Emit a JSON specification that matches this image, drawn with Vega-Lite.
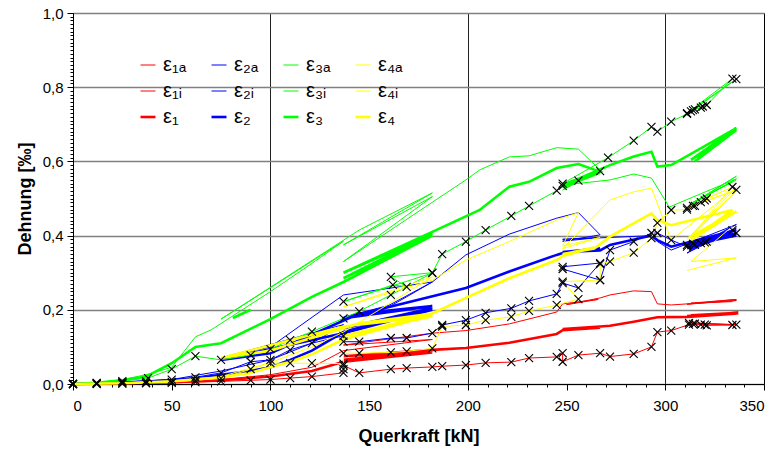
{
"$schema":"https://vega.github.io/schema/vega-lite/v6.json",
"width":691,"height":371,"autosize":"none",
"padding":{"left":73,"top":13,"right":15,"bottom":74},
"config":{"font":"Liberation Sans","view":{"stroke":"#000","strokeWidth":1},"axis":{"domainColor":"#000","tickColor":"#000","labelColor":"#000","titleColor":"#000"}},
"data":{"values":[
{"s":"1a","o":0,"x":0,"y":0},{"s":"1a","o":1,"x":25,"y":0.002},{"s":"1a","o":2,"x":50,"y":0.005},{"s":"1a","o":3,"x":75,"y":0.012},{"s":"1a","o":4,"x":100,"y":0.025},{"s":"1a","o":5,"x":121,"y":0.045},{"s":"1a","o":6,"x":137,"y":0.09},{"s":"1a","o":7,"x":182,"y":0.12},{"s":"1a","o":8,"x":137,"y":0.105},{"s":"1a","o":9,"x":182,"y":0.137},{"s":"1a","o":10,"x":199,"y":0.144},{"s":"1a","o":11,"x":221,"y":0.162},{"s":"1a","o":12,"x":245,"y":0.194},{"s":"1a","o":13,"x":248,"y":0.216},{"s":"1a","o":14,"x":266,"y":0.228},{"s":"1a","o":15,"x":250,"y":0.214},{"s":"1a","o":16,"x":267,"y":0.232},{"s":"1a","o":17,"x":272,"y":0.24},{"s":"1a","o":18,"x":284,"y":0.251},{"s":"1a","o":19,"x":293,"y":0.249},{"s":"1a","o":20,"x":296,"y":0.216},{"s":"1a","o":21,"x":303,"y":0.213},{"s":"1a","o":22,"x":336,"y":0.225},{"s":"1a","o":23,"x":311,"y":0.215},{"s":"1a","o":24,"x":336,"y":0.228},{"s":"1a","o":25,"x":313,"y":0.218},{"s":"1a","o":26,"x":334,"y":0.222},
{"s":"1","o":0,"x":0,"y":0},{"s":"1","o":1,"x":25,"y":0.002},{"s":"1","o":2,"x":50,"y":0.005},{"s":"1","o":3,"x":75,"y":0.01},{"s":"1","o":4,"x":100,"y":0.02},{"s":"1","o":5,"x":121,"y":0.035},{"s":"1","o":6,"x":137,"y":0.06},{"s":"1","o":7,"x":182,"y":0.085},{"s":"1","o":8,"x":137,"y":0.065},{"s":"1","o":9,"x":182,"y":0.09},{"s":"1","o":10,"x":137,"y":0.075},{"s":"1","o":11,"x":182,"y":0.092},{"s":"1","o":12,"x":199,"y":0.097},{"s":"1","o":13,"x":221,"y":0.111},{"s":"1","o":14,"x":245,"y":0.135},{"s":"1","o":15,"x":248,"y":0.145},{"s":"1","o":16,"x":267,"y":0.152},{"s":"1","o":17,"x":248,"y":0.148},{"s":"1","o":18,"x":267,"y":0.155},{"s":"1","o":19,"x":272,"y":0.157},{"s":"1","o":20,"x":284,"y":0.168},{"s":"1","o":21,"x":296,"y":0.18},{"s":"1","o":22,"x":311,"y":0.181},{"s":"1","o":23,"x":337,"y":0.19},{"s":"1","o":24,"x":311,"y":0.183},{"s":"1","o":25,"x":337,"y":0.192},{"s":"1","o":26,"x":313,"y":0.185},{"s":"1","o":27,"x":335,"y":0.19},
{"s":"1i","o":0,"x":0,"y":0},{"s":"1i","o":1,"x":12,"y":0},{"s":"1i","o":2,"x":25,"y":0.001},{"s":"1i","o":3,"x":37,"y":0.002},{"s":"1i","o":4,"x":50,"y":0.003},{"s":"1i","o":5,"x":62,"y":0.005},{"s":"1i","o":6,"x":75,"y":0.007},{"s":"1i","o":7,"x":90,"y":0.01},{"s":"1i","o":8,"x":100,"y":0.012},{"s":"1i","o":9,"x":110,"y":0.016},{"s":"1i","o":10,"x":121,"y":0.02},{"s":"1i","o":11,"x":137,"y":0.03},{"s":"1i","o":12,"x":137,"y":0.04},{"s":"1i","o":13,"x":137,"y":0.05},{"s":"1i","o":14,"x":145,"y":0.03},{"s":"1i","o":15,"x":161,"y":0.04},{"s":"1i","o":16,"x":169,"y":0.043},{"s":"1i","o":17,"x":182,"y":0.046},{"s":"1i","o":18,"x":187,"y":0.048},{"s":"1i","o":19,"x":199,"y":0.051},{"s":"1i","o":20,"x":209,"y":0.057},{"s":"1i","o":21,"x":222,"y":0.059},{"s":"1i","o":22,"x":231,"y":0.07},{"s":"1i","o":23,"x":245,"y":0.073},{"s":"1i","o":24,"x":248,"y":0.083},{"s":"1i","o":25,"x":248,"y":0.06},{"s":"1i","o":26,"x":256,"y":0.078},{"s":"1i","o":27,"x":267,"y":0.083},{"s":"1i","o":28,"x":272,"y":0.074},{"s":"1i","o":29,"x":284,"y":0.081},{"s":"1i","o":30,"x":293,"y":0.1},{"s":"1i","o":31,"x":296,"y":0.14},{"s":"1i","o":32,"x":303,"y":0.144},{"s":"1i","o":33,"x":312,"y":0.16},{"s":"1i","o":34,"x":315,"y":0.163},{"s":"1i","o":35,"x":318,"y":0.16},{"s":"1i","o":36,"x":321,"y":0.158},{"s":"1i","o":37,"x":334,"y":0.159},{"s":"1i","o":38,"x":312,"y":0.165},{"s":"1i","o":39,"x":336,"y":0.16},{"s":"1i","o":40,"x":314,"y":0.162},{"s":"1i","o":41,"x":320,"y":0.16},
{"s":"2a","o":0,"x":0,"y":0},{"s":"2a","o":1,"x":25,"y":0.005},{"s":"2a","o":2,"x":50,"y":0.012},{"s":"2a","o":3,"x":75,"y":0.035},{"s":"2a","o":4,"x":100,"y":0.065},{"s":"2a","o":5,"x":121,"y":0.11},{"s":"2a","o":6,"x":137,"y":0.16},{"s":"2a","o":7,"x":75,"y":0.07},{"s":"2a","o":8,"x":100,"y":0.1},{"s":"2a","o":9,"x":137,"y":0.24},{"s":"2a","o":10,"x":182,"y":0.275},{"s":"2a","o":11,"x":169,"y":0.235},{"s":"2a","o":12,"x":160,"y":0.208},{"s":"2a","o":13,"x":137,"y":0.18},{"s":"2a","o":14,"x":160,"y":0.212},{"s":"2a","o":15,"x":182,"y":0.275},{"s":"2a","o":16,"x":199,"y":0.348},{"s":"2a","o":17,"x":221,"y":0.404},{"s":"2a","o":18,"x":245,"y":0.447},{"s":"2a","o":19,"x":256,"y":0.462},{"s":"2a","o":20,"x":267,"y":0.402},{"s":"2a","o":21,"x":248,"y":0.385},{"s":"2a","o":22,"x":267,"y":0.395},{"s":"2a","o":23,"x":248,"y":0.39},{"s":"2a","o":24,"x":272,"y":0.395},{"s":"2a","o":25,"x":293,"y":0.4},{"s":"2a","o":26,"x":296,"y":0.384},{"s":"2a","o":27,"x":303,"y":0.361},{"s":"2a","o":28,"x":336,"y":0.43},{"s":"2a","o":29,"x":311,"y":0.353},{"s":"2a","o":30,"x":336,"y":0.42},{"s":"2a","o":31,"x":312,"y":0.36},{"s":"2a","o":32,"x":334,"y":0.425},
{"s":"2","o":0,"x":0,"y":0},{"s":"2","o":1,"x":25,"y":0.004},{"s":"2","o":2,"x":50,"y":0.01},{"s":"2","o":3,"x":62,"y":0.015},{"s":"2","o":4,"x":75,"y":0.025},{"s":"2","o":5,"x":90,"y":0.035},{"s":"2","o":6,"x":100,"y":0.045},{"s":"2","o":7,"x":110,"y":0.065},{"s":"2","o":8,"x":121,"y":0.09},{"s":"2","o":9,"x":137,"y":0.14},{"s":"2","o":10,"x":182,"y":0.205},{"s":"2","o":11,"x":137,"y":0.15},{"s":"2","o":12,"x":182,"y":0.2},{"s":"2","o":13,"x":137,"y":0.137},{"s":"2","o":14,"x":75,"y":0.065},{"s":"2","o":15,"x":100,"y":0.083},{"s":"2","o":16,"x":145,"y":0.19},{"s":"2","o":17,"x":182,"y":0.21},{"s":"2","o":18,"x":137,"y":0.177},{"s":"2","o":19,"x":199,"y":0.259},{"s":"2","o":20,"x":221,"y":0.303},{"s":"2","o":21,"x":245,"y":0.348},{"s":"2","o":22,"x":248,"y":0.353},{"s":"2","o":23,"x":267,"y":0.365},{"s":"2","o":24,"x":248,"y":0.356},{"s":"2","o":25,"x":267,"y":0.36},{"s":"2","o":26,"x":272,"y":0.375},{"s":"2","o":27,"x":293,"y":0.4},{"s":"2","o":28,"x":296,"y":0.388},{"s":"2","o":29,"x":303,"y":0.37},{"s":"2","o":30,"x":336,"y":0.415},{"s":"2","o":31,"x":311,"y":0.366},{"s":"2","o":32,"x":336,"y":0.405},{"s":"2","o":33,"x":312,"y":0.372},{"s":"2","o":34,"x":334,"y":0.41},{"s":"2","o":35,"x":313,"y":0.375},{"s":"2","o":36,"x":336,"y":0.4},
{"s":"2i","o":0,"x":0,"y":0},{"s":"2i","o":1,"x":12,"y":0.002},{"s":"2i","o":2,"x":25,"y":0.005},{"s":"2i","o":3,"x":37,"y":0.008},{"s":"2i","o":4,"x":50,"y":0.012},{"s":"2i","o":5,"x":62,"y":0.018},{"s":"2i","o":6,"x":75,"y":0.03},{"s":"2i","o":7,"x":90,"y":0.06},{"s":"2i","o":8,"x":100,"y":0.065},{"s":"2i","o":9,"x":110,"y":0.092},{"s":"2i","o":10,"x":121,"y":0.11},{"s":"2i","o":11,"x":137,"y":0.13},{"s":"2i","o":12,"x":137,"y":0.114},{"s":"2i","o":13,"x":145,"y":0.114},{"s":"2i","o":14,"x":161,"y":0.124},{"s":"2i","o":15,"x":169,"y":0.124},{"s":"2i","o":16,"x":182,"y":0.137},{"s":"2i","o":17,"x":187,"y":0.159},{"s":"2i","o":18,"x":199,"y":0.172},{"s":"2i","o":19,"x":209,"y":0.192},{"s":"2i","o":20,"x":222,"y":0.204},{"s":"2i","o":21,"x":231,"y":0.224},{"s":"2i","o":22,"x":245,"y":0.243},{"s":"2i","o":23,"x":248,"y":0.272},{"s":"2i","o":24,"x":256,"y":0.259},{"s":"2i","o":25,"x":267,"y":0.326},{"s":"2i","o":26,"x":248,"y":0.316},{"s":"2i","o":27,"x":248,"y":0.31},{"s":"2i","o":28,"x":267,"y":0.28},{"s":"2i","o":29,"x":272,"y":0.361},{"s":"2i","o":30,"x":284,"y":0.384},{"s":"2i","o":31,"x":293,"y":0.407},{"s":"2i","o":32,"x":296,"y":0.407},{"s":"2i","o":33,"x":303,"y":0.388},{"s":"2i","o":34,"x":311,"y":0.37},{"s":"2i","o":35,"x":315,"y":0.375},{"s":"2i","o":36,"x":318,"y":0.38},{"s":"2i","o":37,"x":321,"y":0.384},{"s":"2i","o":38,"x":334,"y":0.415},{"s":"2i","o":39,"x":311,"y":0.375},{"s":"2i","o":40,"x":336,"y":0.407},{"s":"2i","o":41,"x":314,"y":0.378},{"s":"2i","o":42,"x":320,"y":0.382},
{"s":"3a","o":0,"x":0,"y":0},{"s":"3a","o":1,"x":12,"y":0.004},{"s":"3a","o":2,"x":25,"y":0.012},{"s":"3a","o":3,"x":37,"y":0.025},{"s":"3a","o":4,"x":50,"y":0.045},{"s":"3a","o":5,"x":62,"y":0.127},{"s":"3a","o":6,"x":70,"y":0.146},{"s":"3a","o":7,"x":100,"y":0.249},{"s":"3a","o":8,"x":121,"y":0.325},{"s":"3a","o":9,"x":137,"y":0.385},{"s":"3a","o":10,"x":75,"y":0.175},{"s":"3a","o":11,"x":145,"y":0.415},{"s":"3a","o":12,"x":182,"y":0.515},{"s":"3a","o":13,"x":137,"y":0.375},{"s":"3a","o":14,"x":182,"y":0.505},{"s":"3a","o":15,"x":137,"y":0.33},{"s":"3a","o":16,"x":182,"y":0.49},{"s":"3a","o":17,"x":199,"y":0.55},{"s":"3a","o":18,"x":206,"y":0.577},{"s":"3a","o":19,"x":221,"y":0.612},{"s":"3a","o":20,"x":231,"y":0.615},{"s":"3a","o":21,"x":245,"y":0.637},{"s":"3a","o":22,"x":256,"y":0.633},{"s":"3a","o":23,"x":267,"y":0.577},{"s":"3a","o":24,"x":248,"y":0.523},{"s":"3a","o":25,"x":267,"y":0.577},{"s":"3a","o":26,"x":248,"y":0.53},{"s":"3a","o":27,"x":267,"y":0.575},{"s":"3a","o":28,"x":248,"y":0.536},{"s":"3a","o":29,"x":272,"y":0.55},{"s":"3a","o":30,"x":284,"y":0.566},{"s":"3a","o":31,"x":293,"y":0.555},{"s":"3a","o":32,"x":302,"y":0.477},{"s":"3a","o":33,"x":336,"y":0.553},{"s":"3a","o":34,"x":312,"y":0.48},{"s":"3a","o":35,"x":336,"y":0.56},{"s":"3a","o":36,"x":313,"y":0.485},{"s":"3a","o":37,"x":334,"y":0.545},{"s":"3a","o":38,"x":314,"y":0.49},{"s":"3a","o":39,"x":336,"y":0.55},
{"s":"3","o":0,"x":0,"y":0},{"s":"3","o":1,"x":12,"y":0.003},{"s":"3","o":2,"x":25,"y":0.01},{"s":"3","o":3,"x":37,"y":0.02},{"s":"3","o":4,"x":50,"y":0.056},{"s":"3","o":5,"x":62,"y":0.1},{"s":"3","o":6,"x":75,"y":0.11},{"s":"3","o":7,"x":100,"y":0.175},{"s":"3","o":8,"x":121,"y":0.235},{"s":"3","o":9,"x":137,"y":0.275},{"s":"3","o":10,"x":182,"y":0.4},{"s":"3","o":11,"x":137,"y":0.285},{"s":"3","o":12,"x":182,"y":0.405},{"s":"3","o":13,"x":137,"y":0.3},{"s":"3","o":14,"x":182,"y":0.41},{"s":"3","o":15,"x":206,"y":0.469},{"s":"3","o":16,"x":221,"y":0.532},{"s":"3","o":17,"x":231,"y":0.545},{"s":"3","o":18,"x":245,"y":0.582},{"s":"3","o":19,"x":256,"y":0.593},{"s":"3","o":20,"x":267,"y":0.572},{"s":"3","o":21,"x":248,"y":0.53},{"s":"3","o":22,"x":267,"y":0.57},{"s":"3","o":23,"x":248,"y":0.535},{"s":"3","o":24,"x":272,"y":0.59},{"s":"3","o":25,"x":284,"y":0.613},{"s":"3","o":26,"x":293,"y":0.626},{"s":"3","o":27,"x":296,"y":0.586},{"s":"3","o":28,"x":303,"y":0.59},{"s":"3","o":29,"x":336,"y":0.69},{"s":"3","o":30,"x":313,"y":0.604},{"s":"3","o":31,"x":336,"y":0.685},{"s":"3","o":32,"x":315,"y":0.6},{"s":"3","o":33,"x":334,"y":0.68},{"s":"3","o":34,"x":316,"y":0.61},{"s":"3","o":35,"x":336,"y":0.69},
{"s":"3","p":1,"o":0,"x":81,"y":0.178},{"s":"3","p":1,"o":1,"x":90,"y":0.2},
{"s":"3i","o":0,"x":0,"y":0},{"s":"3i","o":1,"x":12,"y":0.003},{"s":"3i","o":2,"x":25,"y":0.008},{"s":"3i","o":3,"x":38,"y":0.016},{"s":"3i","o":4,"x":50,"y":0.04},{"s":"3i","o":5,"x":62,"y":0.075},{"s":"3i","o":6,"x":75,"y":0.065},{"s":"3i","o":7,"x":90,"y":0.078},{"s":"3i","o":8,"x":100,"y":0.094},{"s":"3i","o":9,"x":110,"y":0.118},{"s":"3i","o":10,"x":121,"y":0.141},{"s":"3i","o":11,"x":137,"y":0.177},{"s":"3i","o":12,"x":145,"y":0.196},{"s":"3i","o":13,"x":161,"y":0.24},{"s":"3i","o":14,"x":182,"y":0.299},{"s":"3i","o":15,"x":137,"y":0.222},{"s":"3i","o":16,"x":162,"y":0.267},{"s":"3i","o":17,"x":169,"y":0.262},{"s":"3i","o":18,"x":161,"y":0.289},{"s":"3i","o":19,"x":182,"y":0.3},{"s":"3i","o":20,"x":187,"y":0.35},{"s":"3i","o":21,"x":199,"y":0.384},{"s":"3i","o":22,"x":209,"y":0.415},{"s":"3i","o":23,"x":222,"y":0.453},{"s":"3i","o":24,"x":231,"y":0.48},{"s":"3i","o":25,"x":245,"y":0.521},{"s":"3i","o":26,"x":248,"y":0.534},{"s":"3i","o":27,"x":256,"y":0.548},{"s":"3i","o":28,"x":267,"y":0.574},{"s":"3i","o":29,"x":248,"y":0.54},{"s":"3i","o":30,"x":271,"y":0.61},{"s":"3i","o":31,"x":284,"y":0.656},{"s":"3i","o":32,"x":293,"y":0.693},{"s":"3i","o":33,"x":296,"y":0.68},{"s":"3i","o":34,"x":303,"y":0.707},{"s":"3i","o":35,"x":311,"y":0.728},{"s":"3i","o":36,"x":313,"y":0.735},{"s":"3i","o":37,"x":315,"y":0.74},{"s":"3i","o":38,"x":318,"y":0.745},{"s":"3i","o":39,"x":321,"y":0.752},{"s":"3i","o":40,"x":334,"y":0.823},{"s":"3i","o":41,"x":311,"y":0.73},{"s":"3i","o":42,"x":336,"y":0.822},{"s":"3i","o":43,"x":314,"y":0.738},{"s":"3i","o":44,"x":319,"y":0.748},
{"s":"4a","o":0,"x":0,"y":0},{"s":"4a","o":1,"x":25,"y":0.003},{"s":"4a","o":2,"x":50,"y":0.008},{"s":"4a","o":3,"x":75,"y":0.02},{"s":"4a","o":4,"x":100,"y":0.058},{"s":"4a","o":5,"x":121,"y":0.1},{"s":"4a","o":6,"x":137,"y":0.14},{"s":"4a","o":7,"x":182,"y":0.289},{"s":"4a","o":8,"x":137,"y":0.208},{"s":"4a","o":9,"x":182,"y":0.28},{"s":"4a","o":10,"x":199,"y":0.334},{"s":"4a","o":11,"x":221,"y":0.384},{"s":"4a","o":12,"x":245,"y":0.442},{"s":"4a","o":13,"x":256,"y":0.462},{"s":"4a","o":14,"x":248,"y":0.372},{"s":"4a","o":15,"x":267,"y":0.395},{"s":"4a","o":16,"x":248,"y":0.365},{"s":"4a","o":17,"x":272,"y":0.496},{"s":"4a","o":18,"x":284,"y":0.518},{"s":"4a","o":19,"x":293,"y":0.528},{"s":"4a","o":20,"x":303,"y":0.388},{"s":"4a","o":21,"x":336,"y":0.53},{"s":"4a","o":22,"x":311,"y":0.39},{"s":"4a","o":23,"x":336,"y":0.52},{"s":"4a","o":24,"x":313,"y":0.395},{"s":"4a","o":25,"x":334,"y":0.535},
{"s":"4a","p":1,"o":0,"x":311,"y":0.306},{"s":"4a","p":1,"o":1,"x":336,"y":0.34},{"s":"4a","p":1,"o":2,"x":313,"y":0.33},{"s":"4a","p":1,"o":3,"x":334,"y":0.425},
{"s":"4","o":0,"x":0,"y":0},{"s":"4","o":1,"x":25,"y":0.002},{"s":"4","o":2,"x":50,"y":0.007},{"s":"4","o":3,"x":75,"y":0.018},{"s":"4","o":4,"x":90,"y":0.03},{"s":"4","o":5,"x":100,"y":0.045},{"s":"4","o":6,"x":110,"y":0.06},{"s":"4","o":7,"x":121,"y":0.08},{"s":"4","o":8,"x":137,"y":0.12},{"s":"4","o":9,"x":182,"y":0.186},{"s":"4","o":10,"x":137,"y":0.13},{"s":"4","o":11,"x":182,"y":0.183},{"s":"4","o":12,"x":137,"y":0.155},{"s":"4","o":13,"x":75,"y":0.07},{"s":"4","o":14,"x":100,"y":0.09},{"s":"4","o":15,"x":145,"y":0.164},{"s":"4","o":16,"x":182,"y":0.19},{"s":"4","o":17,"x":199,"y":0.232},{"s":"4","o":18,"x":221,"y":0.285},{"s":"4","o":19,"x":245,"y":0.334},{"s":"4","o":20,"x":248,"y":0.345},{"s":"4","o":21,"x":264,"y":0.368},{"s":"4","o":22,"x":248,"y":0.35},{"s":"4","o":23,"x":264,"y":0.365},{"s":"4","o":24,"x":272,"y":0.397},{"s":"4","o":25,"x":293,"y":0.46},{"s":"4","o":26,"x":296,"y":0.442},{"s":"4","o":27,"x":303,"y":0.428},{"s":"4","o":28,"x":334,"y":0.469},{"s":"4","o":29,"x":313,"y":0.388},{"s":"4","o":30,"x":336,"y":0.465},{"s":"4","o":31,"x":312,"y":0.395},{"s":"4","o":32,"x":334,"y":0.46},
{"s":"4i","o":0,"x":0,"y":0},{"s":"4i","o":1,"x":12,"y":0.001},{"s":"4i","o":2,"x":25,"y":0.002},{"s":"4i","o":3,"x":37,"y":0.004},{"s":"4i","o":4,"x":50,"y":0.006},{"s":"4i","o":5,"x":62,"y":0.01},{"s":"4i","o":6,"x":75,"y":0.015},{"s":"4i","o":7,"x":90,"y":0.04},{"s":"4i","o":8,"x":100,"y":0.056},{"s":"4i","o":9,"x":110,"y":0.056},{"s":"4i","o":10,"x":121,"y":0.056},{"s":"4i","o":11,"x":137,"y":0.055},{"s":"4i","o":12,"x":137,"y":0.083},{"s":"4i","o":13,"x":145,"y":0.083},{"s":"4i","o":14,"x":161,"y":0.085},{"s":"4i","o":15,"x":169,"y":0.088},{"s":"4i","o":16,"x":182,"y":0.096},{"s":"4i","o":17,"x":187,"y":0.155},{"s":"4i","o":18,"x":199,"y":0.159},{"s":"4i","o":19,"x":209,"y":0.172},{"s":"4i","o":20,"x":222,"y":0.181},{"s":"4i","o":21,"x":231,"y":0.197},{"s":"4i","o":22,"x":245,"y":0.213},{"s":"4i","o":23,"x":256,"y":0.229},{"s":"4i","o":24,"x":248,"y":0.276},{"s":"4i","o":25,"x":267,"y":0.28},{"s":"4i","o":26,"x":267,"y":0.323},{"s":"4i","o":27,"x":272,"y":0.33},{"s":"4i","o":28,"x":284,"y":0.354},{"s":"4i","o":29,"x":293,"y":0.393},{"s":"4i","o":30,"x":296,"y":0.434},{"s":"4i","o":31,"x":303,"y":0.469},{"s":"4i","o":32,"x":311,"y":0.47},{"s":"4i","o":33,"x":315,"y":0.48},{"s":"4i","o":34,"x":318,"y":0.49},{"s":"4i","o":35,"x":321,"y":0.5},{"s":"4i","o":36,"x":334,"y":0.531},{"s":"4i","o":37,"x":311,"y":0.475},{"s":"4i","o":38,"x":336,"y":0.523},{"s":"4i","o":39,"x":314,"y":0.48},{"s":"4i","o":40,"x":320,"y":0.495}
]},
"resolve":{"axis":{"x":"independent","y":"independent"}},
"layer":[
{"mark":{"type":"line"},
 "encoding":{
  "x":{"field":"x","type":"quantitative","scale":{"domain":[0,350],"nice":false,"zero":false},
   "axis":{"orient":"bottom","values":[0,50,100,150,200,250,300,350],"labelOverlap":false,"tickSize":6,
    "grid":true,"gridColor":"#222","gridOpacity":{"condition":{"test":"datum.value % 100 == 0 && datum.value > 0 && datum.value < 350","value":1},"value":0},
    "labelFontSize":15,"labelPadding":8,"title":"Querkraft [kN]","titleFontSize":18,"titleFontWeight":"bold","titlePadding":14}},
  "y":{"field":"y","type":"quantitative","scale":{"domain":[0,1],"nice":false},
   "axis":{"orient":"left","values":[0,0.2,0.4,0.6,0.8,1],"labelExpr":"replace(format(datum.value,'.1f'),'.',',')","tickSize":6,
    "grid":true,"gridColor":"#808080","gridWidth":1.5,
    "labelFontSize":15,"labelPadding":4,"title":"Dehnung [‰]","titleFontSize":18,"titleFontWeight":"bold","titlePadding":8}},
  "color":{"field":"s","type":"nominal","scale":{"domain":["1a","2a","3a","4a","1i","2i","3i","4i","1","2","3","4"],"range":["#ff0000","#0000ff","#00ff00","#ffff00","#ff0000","#0000ff","#00ff00","#ffff00","#ff0000","#0000ff","#00ff00","#ffff00"]},
   "legend":{"orient":"none","legendX":65,"legendY":42,"columns":4,"direction":"horizontal","title":null,"symbolType":"stroke","symbolSize":225,"labelFontSize":20,"labelOffset":5,"columnPadding":19,"rowPadding":6,"padding":0,
    "labelExpr":"'ε' + replace(replace(replace(replace(replace(replace(datum.label,'1','₁'),'2','₂'),'3','₃'),'4','₄'),'a','ₐ'),'i','ᵢ')"}},
  "strokeWidth":{"field":"s","type":"nominal","scale":{"type":"ordinal","domain":["1a","2a","3a","4a","1i","2i","3i","4i","1","2","3","4"],"range":[1,1,1,1,1,1,1,1,2.6,2.6,2.6,2.6]}},
  "detail":{"field":"p"},
  "order":{"field":"o","type":"quantitative"}}},
{"transform":[{"filter":"test(/i$/, datum.s)"}],
 "mark":{"type":"point","shape":"M-1,-1L1,1M1,-1L-1,1","filled":false,"stroke":"#000","strokeWidth":1.1,"size":64,"opacity":1},
 "encoding":{
  "x":{"field":"x","type":"quantitative","axis":{"orient":"bottom","values":[10,20,30,40,60,70,80,90,110,120,130,140,160,170,180,190,210,220,230,240,260,270,280,290,310,320,330,340],"labels":false,"domain":false,"grid":false,"tickSize":3,"title":null}},
  "y":{"field":"y","type":"quantitative","axis":{"orient":"left","tickCount":100,"labels":false,"domain":false,"grid":false,"tickSize":3,"title":null}}}}
]
}
